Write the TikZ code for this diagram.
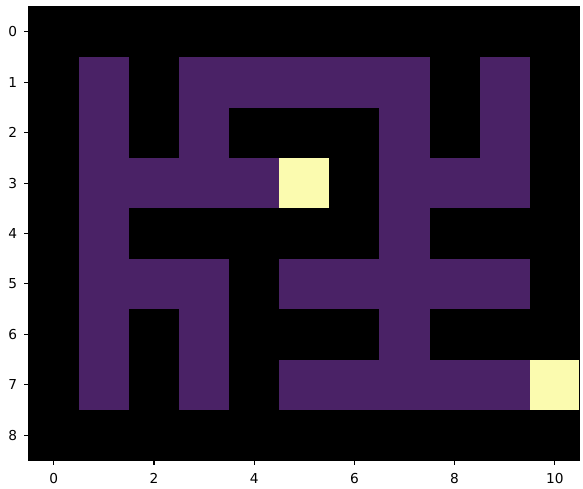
\documentclass[tikz,border=0pt]{standalone}
\usepackage{fontspec}
\setmainfont{DejaVu Sans}
\definecolor{mazepath}{HTML}{4A2266}
\definecolor{mazegoal}{HTML}{FBFBAF}
\tikzset{
	pathcell/.style={
			fill=mazepath
		},
	goalcell/.style={
			fill=mazegoal
		},
	tickmark/.style={
			black,
			line width=0.6pt
		},
	ticklabel/.style={
			inner sep=0pt,
			font=\fontsize{7.8}{9}\selectfont
		}
}

\begin{document}
\begin{tikzpicture}[x=1.002cm, y=-1.008cm]
\useasboundingbox (-1.074,-0.633) rectangle (10.563,9.069);
% background of the axes
\fill[black] (-0.5,-0.5) rectangle (10.5,8.5);

% open cells, row by row
\foreach \r/\cols in {1/{1,3,4,5,6,7,9}, 2/{1,3,7,9}, 3/{1,2,3,4,7,8,9},
                      4/{1,7}, 5/{1,2,3,5,6,7,8,9}, 6/{1,3,7}, 7/{1,3,5,6,7,8,9}}
  \foreach \c in \cols
    \fill[pathcell] (\c-0.5,\r-0.5) rectangle ++(1,1);

% start and goal
\fill[goalcell] (4.5,2.5) rectangle ++(1,1);
\fill[goalcell] (9.5,6.5) rectangle ++(1,1);

\draw[line width=0.6pt] (-0.5,-0.5) rectangle (10.5,8.5);

% ticks
\foreach \x in {0,2,...,10} {
  \draw[tickmark] (\x,8.5) -- ++(0,0.1);
  \node[ticklabel, anchor=north] (xt\x) at (\x,8.76) {\x};
}
\foreach \y in {0,...,8} {
  \draw[tickmark] (-0.5,\y) -- ++(-0.1,0);
  \node[ticklabel, anchor=east] (yt\y) at (-0.725,\y) {\y};
}
\end{tikzpicture}
\end{document}
